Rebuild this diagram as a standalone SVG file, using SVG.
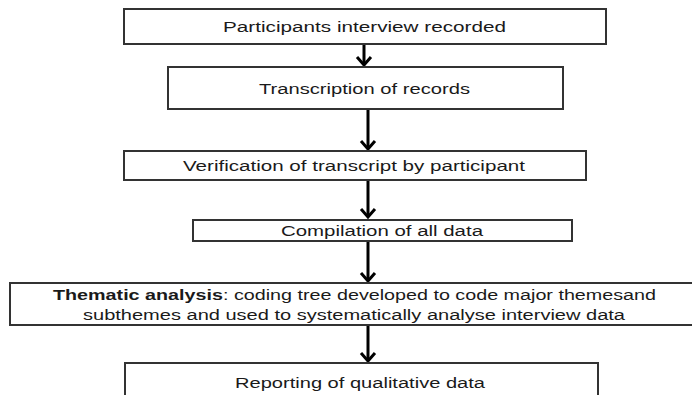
<svg xmlns="http://www.w3.org/2000/svg" width="692" height="395" viewBox="0 0 692 395">
<defs>
<style>
.box{fill:#fff;stroke:#333;stroke-width:2}
.t{font-family:"Liberation Sans",Arial,sans-serif;font-size:15.5px;fill:#1a1a1a}
.b{font-weight:bold}
.c{stroke:#000;stroke-width:3;fill:none}
</style>
<marker id="ah" markerUnits="userSpaceOnUse" markerWidth="20" markerHeight="20" viewBox="-10 -10 20 20" refX="0" refY="0" orient="auto">
<path d="M-8,-7 L0,0 L-8,7" fill="none" stroke="#000" stroke-width="3"/>
</marker>
</defs>
<rect width="692" height="395" fill="#fff"/>
<g id="connectors">
<line class="c" x1="364" y1="44" x2="364" y2="65" marker-end="url(#ah)"/>
<line class="c" x1="368" y1="109" x2="368" y2="149" marker-end="url(#ah)"/>
<line class="c" x1="368" y1="180" x2="368" y2="217" marker-end="url(#ah)"/>
<line class="c" x1="368" y1="241" x2="368" y2="281" marker-end="url(#ah)"/>
<line class="c" x1="368" y1="325" x2="368" y2="361" marker-end="url(#ah)"/>
</g>
<g id="n1">
<rect class="box" x="124" y="9" width="482" height="35"/>
<text class="t" x="223" y="32" textLength="283" lengthAdjust="spacingAndGlyphs">Participants interview  recorded</text>
</g>
<g id="n2">
<rect class="box" x="168" y="67" width="395" height="42"/>
<text class="t" x="259" y="94" textLength="211" lengthAdjust="spacingAndGlyphs">Transcription of records</text>
</g>
<g id="n3">
<rect class="box" x="124" y="151" width="462" height="29"/>
<text class="t" x="183" y="171" textLength="342" lengthAdjust="spacingAndGlyphs">Verification of transcript by participant</text>
</g>
<g id="n4">
<rect class="box" x="193" y="220" width="379" height="21"/>
<text class="t" x="281" y="236" textLength="202" lengthAdjust="spacingAndGlyphs">Compilation of all data</text>
</g>
<g id="n5">
<rect class="box" x="10" y="283" width="684" height="42"/>
<text class="t" x="53" y="300" textLength="603" lengthAdjust="spacingAndGlyphs"><tspan class="b">Thematic analysis</tspan>: coding tree developed to code major themesand</text>
<text class="t" x="83" y="320" textLength="542" lengthAdjust="spacingAndGlyphs">subthemes and used  to systematically analyse interview data</text>
</g>
<g id="n6">
<rect class="box" x="125" y="363" width="473" height="40"/>
<text class="t" x="235" y="388" textLength="250" lengthAdjust="spacingAndGlyphs">Reporting of qualitative data</text>
</g>
</svg>
